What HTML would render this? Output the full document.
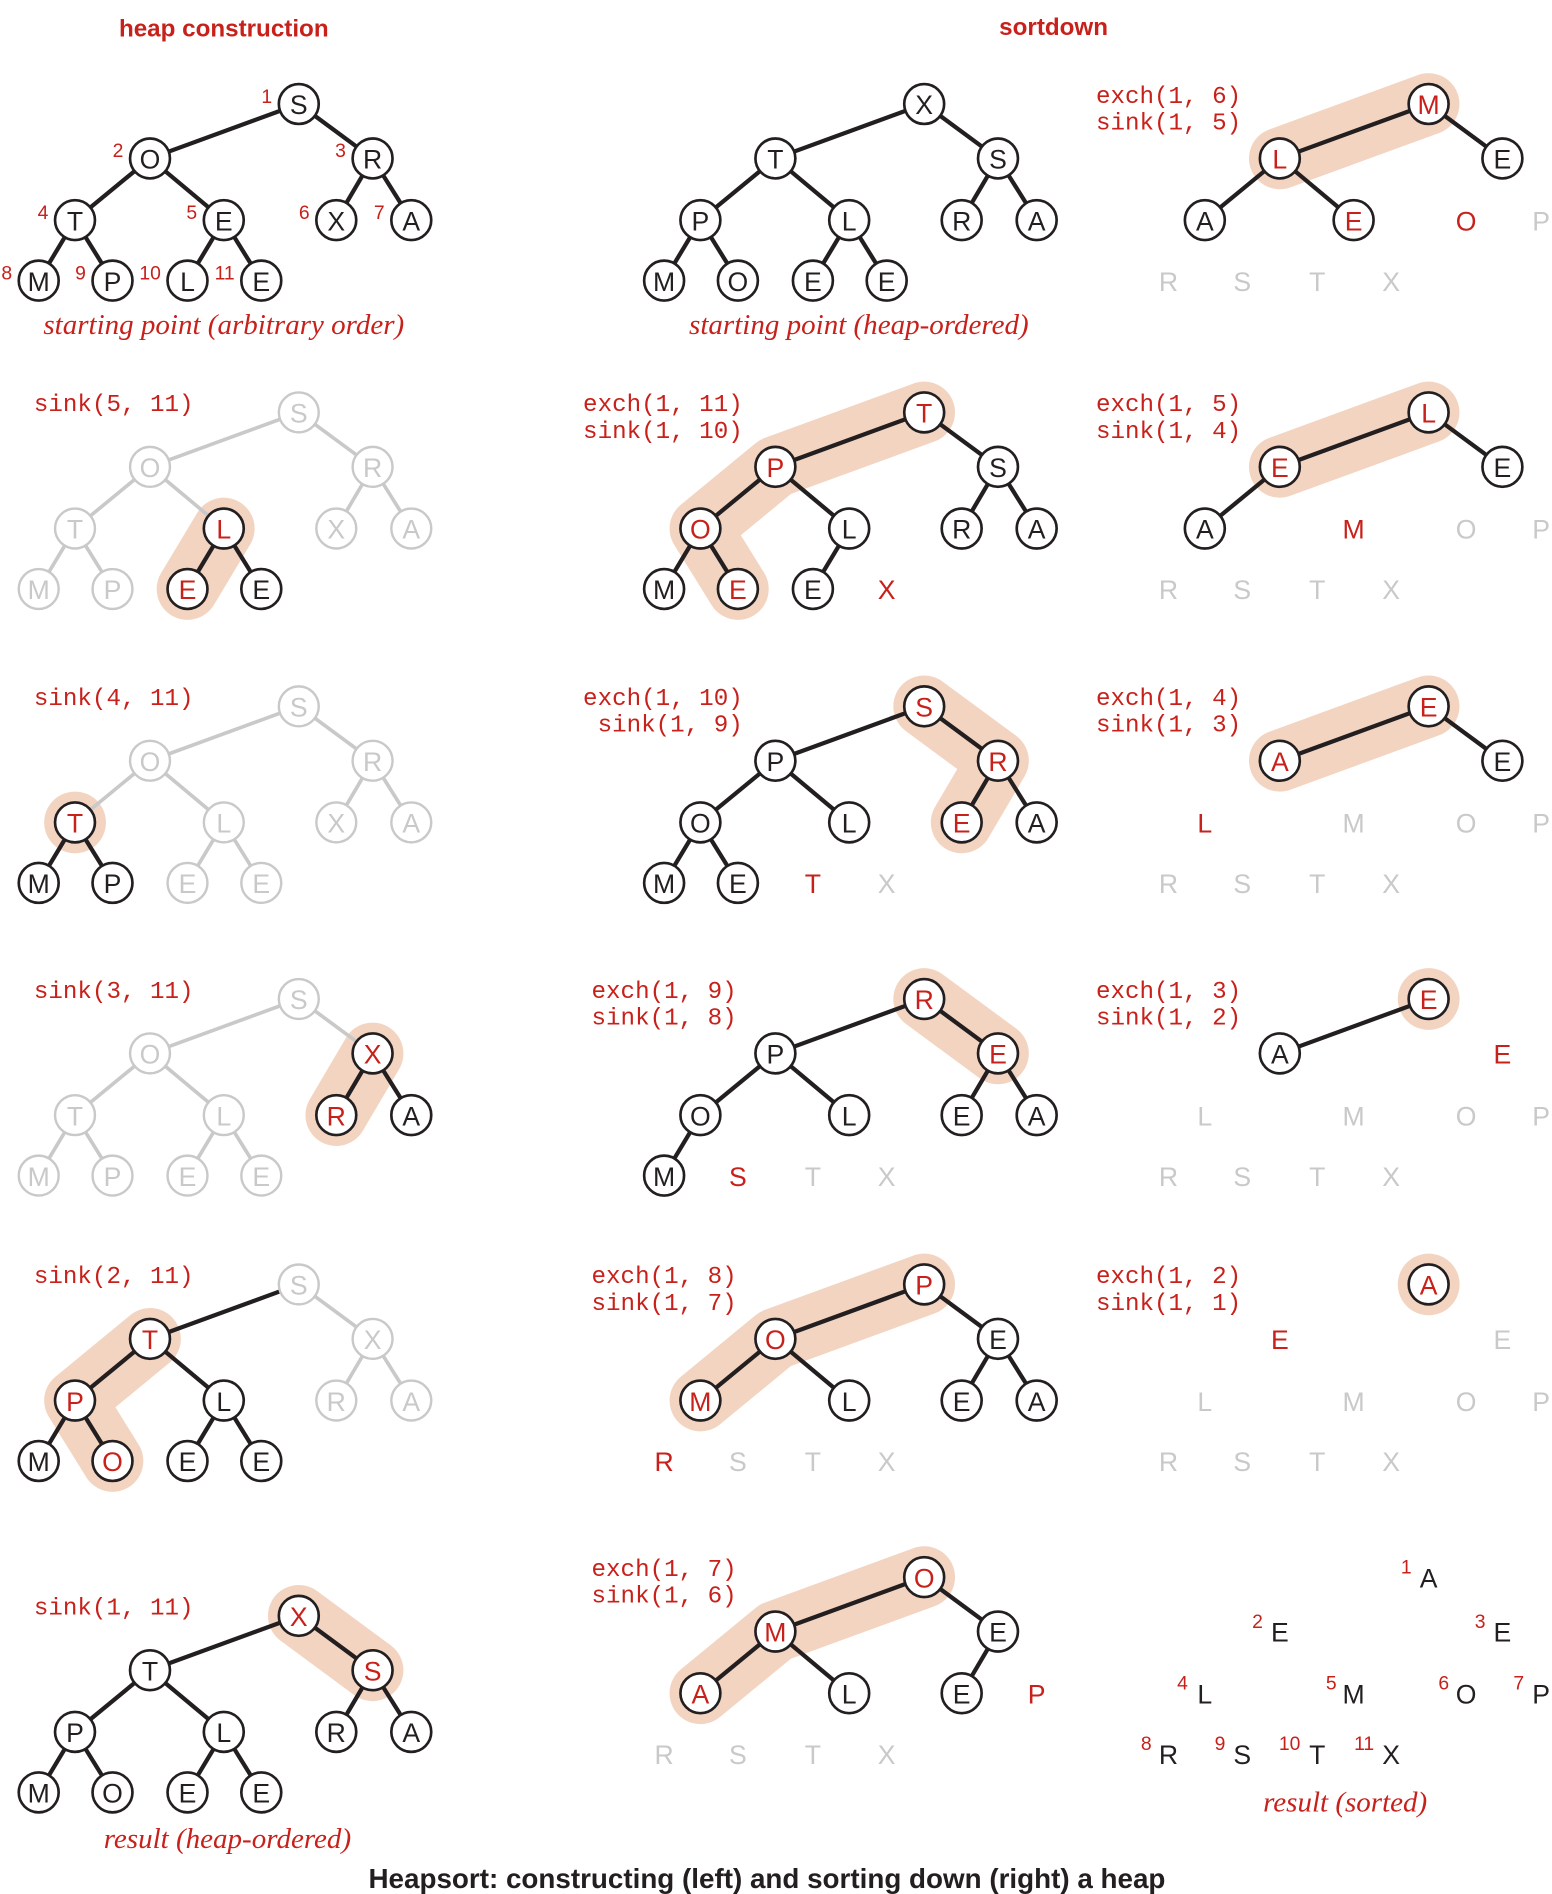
<!DOCTYPE html>
<html><head><meta charset="utf-8"><style>
html,body{margin:0;padding:0;background:#fff}
svg{display:block}
.lt{font-family:"Liberation Sans",sans-serif;font-size:22px;text-anchor:middle;dominant-baseline:central}
.code{font-family:"Liberation Mono",monospace;font-size:20px;fill:#c8201a}
.cap{font-family:"Liberation Serif",serif;font-style:italic;font-size:24px;fill:#c8201a;text-anchor:middle}
.ttl{font-family:"Liberation Sans",sans-serif;font-weight:bold;font-size:20px;fill:#c8201a;text-anchor:middle}
.idx{font-family:"Liberation Sans",sans-serif;font-size:16px;fill:#c8201a;text-anchor:end}
</style></head><body>
<svg id="chart" width="1552" height="1894" viewBox="0 0 1283 1566" preserveAspectRatio="none" xmlns="http://www.w3.org/2000/svg">
<text class="ttl" x="185" y="30">heap construction</text>
<text class="ttl" x="871" y="29">sortdown</text>
<text class="cap" x="185" y="276">starting point (arbitrary order)</text>
<text class="cap" x="710" y="276">starting point (heap-ordered)</text>
<text class="cap" x="188" y="1528">result (heap-ordered)</text>
<text class="cap" x="1112" y="1498">result (sorted)</text>
<text x="634" y="1561" style="font-family:'Liberation Sans',sans-serif;font-weight:bold;font-size:23px;text-anchor:middle;fill:#231f20">Heapsort: constructing (left) and sorting down (right) a heap</text>
</svg>
<script>
// styles: b=black circle, g=gray circle, r=red letter circle, R=red text only, G=gray text only, K=black text only
const panelCols = [0,0,0,0,0,0, 1,1,1,1,1,1, 2,2,2,2,2,2];
const panelRows = [0,1,2,3,4,5, 0,1,2,3,4,5, 0,1,2,3,4,5];
const panelLetters = [
 "SORTEXAMPLE","SORTLXAMPEE","SORTLXAMPEE","SOXTLRAMPEE","STXPLRAMOEE","XTSPLRAMOEE",
 "XTSPLRAMOEE","TPSOLRAMEEX","SPROLEAMETX","RPEOLEAMSTX","POEMLEARSTX","OMEALEPRSTX",
 "MLEAEOPRSTX","LEEAMOPRSTX","EAELMOPRSTX","EAELMOPRSTX","AEELMOPRSTX","AEELMOPRSTX"];
const panelStyles = [
 "bbbbbbbbbbb","ggggrggggrb","gggrgggbbgg","ggrggrbgggg","grgrbggbrbb","rbrbbbbbbbb",
 "bbbbbbbbbbb","rrbrbbbbrbR","rbrbbrbbbRG","rbrbbbbbRGG","rrbrbbbRGGG","rrbrbbRGGGG",
 "rrbbrRGGGGG","rrbbRGGGGGG","rrbRGGGGGGG","rbRGGGGGGGG","rRGGGGGGGGG","KKKKKKKKKKK"];
const panelPaths = [[],[5,10],[4],[3,6],[2,4,9],[1,3],
 [],[1,2,4,9],[1,3,6],[1,3],[1,2,4],[1,2,4],
 [1,2],[1,2],[1,2],[1],[1],[]];
const panelCode = ["","sink(5, 11)","sink(4, 11)","sink(3, 11)","sink(2, 11)","sink(1, 11)",
 "","exch(1, 11)|sink(1, 10)","exch(1, 10)| sink(1, 9)","exch(1, 9)|sink(1, 8)","exch(1, 8)|sink(1, 7)","exch(1, 7)|sink(1, 6)",
 "exch(1, 6)|sink(1, 5)","exch(1, 5)|sink(1, 4)","exch(1, 4)|sink(1, 3)","exch(1, 3)|sink(1, 2)","exch(1, 2)|sink(1, 1)",""];
const showIndex = [0,17];
const grayEdges = {1:[2,3,4,5,6,7,8,9],2:[2,3,4,5,6,7,10,11],3:[2,3,4,5,8,9,10,11],4:[3,6,7]};

const rowY = [[86,341,584,826,1062,1336],[86,341,584,826,1062,1304],[86,341,584,826,1062,1304]];
const colX = [0,517,934];
const baseX = [247,124,308,62,185,278,340,32,93,155,216];
const levY = [0,45,45,96,96,96,96,146,146,146,146];
const NS="http://www.w3.org/2000/svg";
const svg=document.getElementById('chart');
const RED="#c8201a", BLK="#231f20", GRY="#c9c9c9", PINK="#f3d4c1";
function mk(t,a,p){const e=document.createElementNS(NS,t);for(const k in a)e.setAttribute(k,a[k]);(p||svg).appendChild(e);return e;}

panelLetters.forEach((letters,p)=>{
  const c=panelCols[p], r=panelRows[p], st=panelStyles[p];
  const g=mk('g',{});
  
  
  const pos=i=>[baseX[i-1]+colX[c], rowY[c][r]+levY[i-1]];
  const path=panelPaths[p];
  if(path.length){
    const d=path.map((i,k)=>(k?'L':'M')+pos(i).join(' ')).join(' ')+(path.length==1?' l0.1 0':'');
    const band=mk('path',{d:d,fill:'none',stroke:PINK,'stroke-width':51,'stroke-linecap':'round','stroke-linejoin':'round'},g);
    
    
  }
  const isCircle=s=>'bgr'.includes(s);
  for(let i=2;i<=11;i++){
    const par=Math.floor(i/2);
    if(!isCircle(st[i-1])||!isCircle(st[par-1])) continue;
    const gray=(grayEdges[p]||[]).includes(i) || (st[i-1]=='g'&&st[par-1]=='g');
    const [x1,y1]=pos(par),[x2,y2]=pos(i);
    const ln=mk('line',{x1,y1,x2,y2,stroke:gray?GRY:BLK,'stroke-width':gray?3:3.5},g);
    
    
  }
  for(let i=1;i<=11;i++){
    const s=st[i-1], ch=letters[i-1], [x,y]=pos(i);
    if(isCircle(s)){
      const cc=mk('circle',{cx:x,cy:y,r:16.5,fill:'#fff',stroke:s=='g'?GRY:BLK,'stroke-width':s=='g'?2:2.2},g);
      
      
    }
    const col = s=='g'||s=='G'?GRY:(s=='r'||s=='R'?RED:BLK);
    const t=mk('text',{x:x,y:y+1,class:'lt',fill:col},g);
    t.textContent=ch;
    
    
    if(showIndex.includes(p)){
      const n=mk('text',{x:x-(p==17?14:22),y:y-(p==17?3:1),class:'idx'},g);
      n.textContent=i;
      
      
    }
  }
  if(panelCode[p]){
    const lines=panelCode[p].split('|');
    const cx = c==0?28:(c==1?(r>=3?489:482):906);
    lines.forEach((l,k)=>{
      const ct=mk('text',{x:cx,y:rowY[c][r]-1+k*22,class:'code'},g);
      ct.style.whiteSpace='pre';
      ct.textContent=l;
      
      
    });
  }
});
</script>
</body></html>
